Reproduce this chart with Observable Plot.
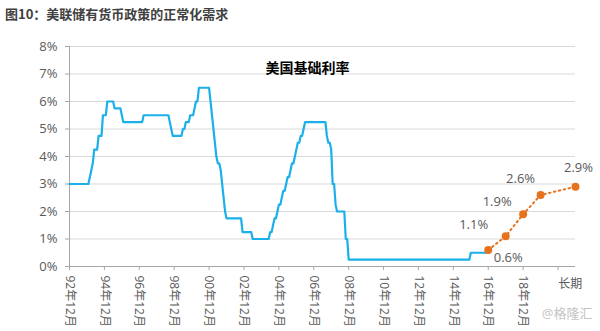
<!DOCTYPE html>
<html><head><meta charset="utf-8">
<script src="https://cdn.jsdelivr.net/npm/d3@7"></script>
<script src="https://cdn.jsdelivr.net/npm/@observablehq/plot@0.6"></script>
<style>
body{margin:0;background:#fff;width:600px;height:331px;overflow:hidden;font-family:"Open Sans","Noto Sans CJK SC",sans-serif;}
#title{height:28px;line-height:28px;padding-left:5px;font-size:13px;font-weight:bold;color:#404040;font-family:"Noto Sans CJK SC",sans-serif;}
#chart svg{display:block;}
</style></head><body>
<div id="title">图10：美联储有货币政策的正常化需求</div>
<div id="chart"></div>
<script>
// ---- data ----
const chartTitle = "美国基础利率";
const watermark = "@格隆汇";
const rateChangeMonths = ["1992-12","1994-02","1994-03","1994-04","1994-05","1994-08","1994-11","1995-02","1995-07","1995-12","1996-01","1997-03","1998-09","1998-10","1998-11","1999-06","1999-08","1999-11","2000-02","2000-03","2000-05","2001-01","2001-02","2001-03","2001-04","2001-05","2001-06","2001-08","2001-09","2001-10","2001-11","2001-12","2002-11","2003-06","2004-06","2004-08","2004-09","2004-11","2004-12","2005-02","2005-03","2005-05","2005-06","2005-08","2005-09","2005-11","2005-12","2006-01","2006-03","2006-05","2006-06","2007-09","2007-10","2007-12","2008-01","2008-03","2008-04","2008-10","2008-12","2015-12"];
const rateChangeValues = [3.0,3.25,3.5,3.75,4.25,4.75,5.5,6.0,5.75,5.5,5.25,5.5,5.25,5.0,4.75,5.0,5.25,5.5,5.75,6.0,6.5,6.0,5.5,5.0,4.5,4.0,3.75,3.5,3.0,2.5,2.0,1.75,1.25,1.0,1.25,1.5,1.75,2.0,2.25,2.5,2.75,3.0,3.25,3.5,3.75,4.0,4.25,4.5,4.75,5.0,5.25,4.75,4.5,4.25,3.0,2.25,2.0,1.0,0.25,0.5];
const rateEndMonth = "2016-12";
const projCategories = ["2016-12","2017-12","2018-12","2019-12","长期"];
const projValues = [0.6,1.1,1.9,2.6,2.9];
const projLabels = ["0.6%","1.1%","1.9%","2.6%","2.9%"];
const longRunMonth = "2021-12";
const xTickMonths = ["1992-12","1994-12","1996-12","1998-12","2000-12","2002-12","2004-12","2006-12","2008-12","2010-12","2012-12","2014-12","2016-12","2018-12","2020-12"];
const xTickLabels = ["92年12月","94年12月","96年12月","98年12月","00年12月","02年12月","04年12月","06年12月","08年12月","10年12月","12年12月","14年12月","16年12月","18年12月",""];
const longRunLabel = "长期";
const yTicks = [0,1,2,3,4,5,6,7,8];
const yTickLabels = ["0%","1%","2%","3%","4%","5%","6%","7%","8%"];

// ---- build ----
const toYear = s => +s.slice(0,4) + (+s.slice(5,7) - 1) / 12;
const catX = c => c === longRunLabel ? toYear(longRunMonth) : toYear(c);

// monthly sampled step series: each change reached one month after previous level
const rate = [{x: toYear(rateChangeMonths[0]), y: rateChangeValues[0]}];
for (let i = 1; i < rateChangeMonths.length; i++) {
  rate.push({x: toYear(rateChangeMonths[i]) - 1/12, y: rateChangeValues[i-1]});
  rate.push({x: toYear(rateChangeMonths[i]), y: rateChangeValues[i]});
}
rate.push({x: toYear(rateEndMonth), y: rateChangeValues[rateChangeValues.length-1]});

const proj = projCategories.map((c, i) => ({x: catX(c), y: projValues[i], label: projLabels[i]}));
const tickMap = new Map(xTickMonths.map((m, i) => [toYear(m), xTickLabels[i]]));

const BLUE = "#1ab0ea", ORANGE = "#e8711c", GRAY = "#595959", AXIS = "#a6a6a6";
const labelOffsets = [[20, 8], [-32, -11], [-26, -12], [-20, -16], [3, -19]];

const chart = Plot.plot({
  width: 600, height: 303,
  marginLeft: 69, marginRight: 25, marginTop: 18, marginBottom: 65,
  style: {fontFamily: '"Open Sans","Noto Sans CJK SC",sans-serif', background: "#fff", overflow: "visible"},
  x: {domain: [toYear(xTickMonths[0]), toYear(longRunMonth)]},
  y: {domain: [0, 8]},
  marks: [
    Plot.gridY(yTicks, {stroke: "#d9d9d9", strokeOpacity: 1}),
    Plot.axisY({ticks: yTicks, tickFormat: d => yTickLabels[yTicks.indexOf(d)], tickSize: 4, tickPadding: 8, fontSize: 13, color: GRAY, stroke: AXIS, label: null}),
    Plot.axisX({ticks: xTickMonths.map(toYear), tickFormat: d => tickMap.get(d), tickRotate: 90, tickSize: 4, tickPadding: 5, fontSize: 12, color: GRAY, stroke: AXIS, label: null}),
    Plot.ruleY([0], {stroke: AXIS}),
    Plot.ruleX([toYear(xTickMonths[0])], {stroke: AXIS}),
    Plot.line(rate, {x: "x", y: "y", stroke: BLUE, strokeWidth: 2.2}),
    Plot.line(proj, {x: "x", y: "y", stroke: ORANGE, strokeWidth: 2, strokeDasharray: "1.5,3.5", strokeLinecap: "round"}),
    Plot.dot(proj, {x: "x", y: "y", r: 4, fill: ORANGE}),
    ...proj.map((p, i) => Plot.text([p], {x: "x", y: "y", text: "label", dx: labelOffsets[i][0], dy: labelOffsets[i][1], fontSize: 13, fill: GRAY})),
    Plot.text([longRunLabel], {x: catX(longRunLabel) - 0.3, frameAnchor: "bottom", dy: 21, fontSize: 12, fill: GRAY}),
    Plot.text([chartTitle], {frameAnchor: "top", dx: -15, dy: 17, fontSize: 14, fontWeight: "bold", fill: "#000", fontFamily: '"Noto Sans CJK SC",sans-serif'}),
    Plot.text([watermark], {frameAnchor: "bottom-right", dx: 17, dy: 51, textAnchor: "end", fontSize: 13, fill: "#c4c4c4"})
  ]
});
document.getElementById("chart").appendChild(chart);
</script>
</body></html>
